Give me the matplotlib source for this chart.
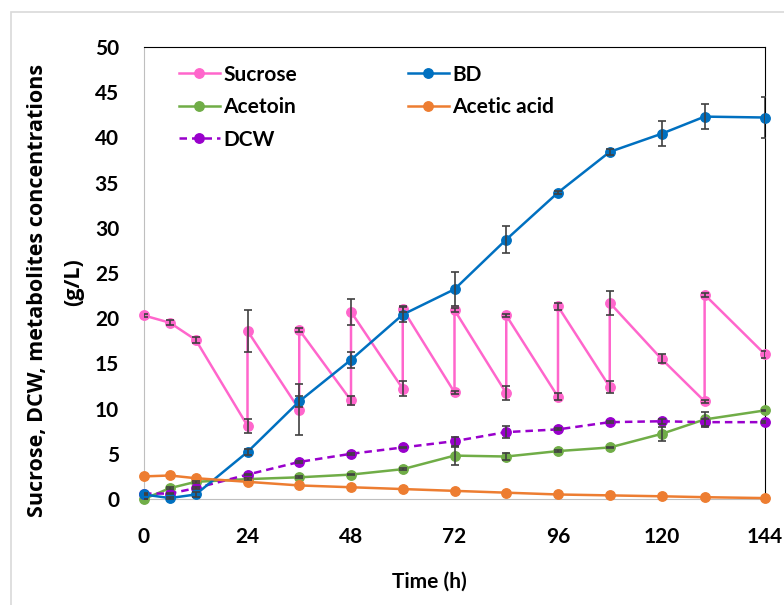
import matplotlib
matplotlib.use('Agg')
import matplotlib.pyplot as plt
from matplotlib.patches import Rectangle

# time points (h)
t = [0, 6, 12, 24, 36, 48, 60, 72, 84, 96, 108, 120, 130, 144]

# sucrose is fed, so each feed time has a before / after value
sucrose_t = [0, 6, 12, 24, 24, 36, 36, 48, 48, 60, 60, 72, 72, 84, 84,
             96, 96, 108, 108, 120, 130, 130, 144]
sucrose = [20.3, 19.5, 17.6, 8.1, 18.6, 9.9, 18.7, 10.9, 20.7, 12.2, 21.0,
           11.8, 20.9, 11.7, 20.3, 11.3, 21.3, 12.4, 21.7, 15.5, 10.8, 22.6, 16.0]
sucrose_err = [0.2, 0.3, 0.3, 0.8, 2.3, 2.8, 0.2, 0.5, 1.4, 0.85, 0.3,
               0.2, 0.2, 0.75, 0.2, 0.4, 0.4, 0.7, 1.3, 0.5, 0.2, 0.2, 0.4]

bd = [0.5, 0.1, 0.5, 5.2, 10.8, 15.4, 20.4, 23.2, 28.7, 33.9, 38.4, 40.4, 42.3, 42.2]
bd_err = [0.1, 0.1, 0.3, 0.3, 0.6, 0.9, 0.8, 1.9, 1.5, 0.2, 0.3, 1.4, 1.35, 2.3]

acetoin = [0.0, 1.2, 1.9, 2.2, 2.4, 2.7, 3.3, 4.8, 4.7, 5.3, 5.7, 7.2, 8.8, 9.8]
acetoin_err = [0, 0.1, 0.1, 0.1, 0.1, 0.1, 0.1, 1.0, 0.4, 0.1, 0.1, 0.8, 0.8, 0.1]

acetic = [2.5, 2.6, 2.3, 1.9, 1.5, 1.3, 1.1, 0.9, 0.7, 0.5, 0.4, 0.3, 0.2, 0.1]

dcw = [0.6, 0.6, 1.2, 2.7, 4.1, 5.0, 5.7, 6.4, 7.4, 7.7, 8.5, 8.6, 8.5, 8.5]
dcw_err = [0.1, 0.1, 0.1, 0.1, 0.1, 0.1, 0.1, 0.5, 0.7, 0.1, 0.1, 0.3, 0.4, 0.1]

xticks = [0, 24, 48, 72, 96, 120, 144]
yticks = list(range(0, 51, 5))

FONT = 'Lato'
W, H = 784, 605

fig = plt.figure(figsize=(W / 100, H / 100), dpi=100)
fig.patches.append(Rectangle((11 / W, -0.2), 2, (H - 12) / H + 0.2, transform=fig.transFigure,
                             fill=False, edgecolor='#d9d9d9', linewidth=1.2))
ax = fig.add_axes([144 / W, 1 - 499 / H, (765 - 144) / W, (499 - 47) / H])

ms, lw = 6.8, 1.8
ekw = dict(fmt='none', ecolor='#404040', elinewidth=1.2, capsize=3, capthick=1.2, zorder=5)

ax.plot(sucrose_t, sucrose, '-o', color='#ff66cc', lw=lw, ms=ms, label='Sucrose', clip_on=False, zorder=3)
ax.plot(t, acetoin, '-o', color='#70ad47', lw=lw, ms=ms, label='Acetoin', clip_on=False, zorder=3)
ax.plot(t, dcw, '--o', color='#9900cc', lw=lw, ms=ms, label='DCW', clip_on=False, zorder=3,
        dashes=(3, 2))
ax.plot(t, bd, '-o', color='#0070c0', lw=lw, ms=ms, label='BD', clip_on=False, zorder=4)
ax.plot(t, acetic, '-o', color='#ed7d31', lw=lw, ms=ms, label='Acetic acid', clip_on=False, zorder=4)

ax.errorbar(sucrose_t, sucrose, yerr=sucrose_err, **ekw)
ax.errorbar(t, bd, yerr=bd_err, **ekw)
ax.errorbar(t, acetoin, yerr=acetoin_err, **ekw)
ax.errorbar(t, dcw, yerr=dcw_err, **ekw)

ax.set_xlim(0, 144)
ax.set_ylim(0, 50)
ax.set_xticks(xticks)
ax.set_yticks(yticks)
ax.tick_params(length=0)
ax.tick_params(axis='y', pad=18)
ax.tick_params(axis='x', pad=20)
for lab in ax.get_xticklabels() + ax.get_yticklabels():
    lab.set_fontfamily(FONT)
    lab.set_fontweight('bold')
    lab.set_fontsize(15)

for s in ['left', 'bottom']:
    ax.spines[s].set_color('#bfbfbf')
for s in ['top', 'right']:
    ax.spines[s].set_color('black')

ax.set_xlabel('Time (h)', fontfamily=FONT, fontweight='bold', fontsize=15)
ax.xaxis.set_label_coords(0.46, -0.16)

fig.text(38 / W, 1 - 290 / H, 'Sucrose, DCW, metabolites concentrations', rotation=90,
         ha='center', va='center', fontfamily='Open Sans', fontweight='bold', fontsize=15.5)
fig.text(74 / W, 1 - 282 / H, '(g/L)', rotation=90,
         ha='center', va='center', fontfamily='Open Sans', fontweight='bold', fontsize=15.5)

ax.legend(loc='upper left', bbox_to_anchor=(0.039, 0.984), ncol=2, frameon=False,
          prop={'family': FONT, 'weight': 'bold', 'size': 15}, borderpad=0,
          handlelength=2.0, handletextpad=0.15, labelspacing=0.6, columnspacing=5.3)

fig.savefig('out.png', dpi=100)
